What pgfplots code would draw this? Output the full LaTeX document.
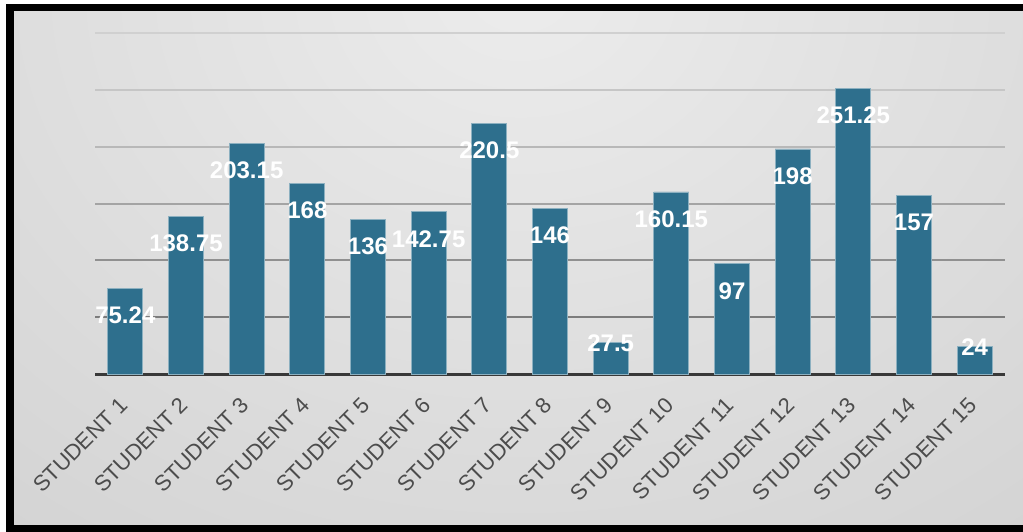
\documentclass[border=0pt]{standalone}
\usepackage{fontspec}
\setmainfont{Liberation Sans}
\usepackage{pgfplots}
\usepackage{pgfplotstable}
\pgfplotsset{compat=1.18}
\definecolor{barc}{RGB}{46,111,141}
\pgfplotstableread{
x y lab
0 75.24 75.24
1 138.75 138.75
2 203.15 203.15
3 168 168
4 136 136
5 142.75 142.75
6 220.5 220.5
7 146 146
9 160.15 160.15
10 97 97
11 198 198
12 251.25 251.25
13 157 157
}\bigbars
\pgfplotstableread{
x y lab
8 27.5 27.5
14 24 24
}\smallbars
\begin{document}
\begin{tikzpicture}
\useasboundingbox (0pt,0pt) rectangle (1023pt,-532pt);
\fill[white] (0pt,0pt) rectangle (1023pt,-532pt);
\fill[black] (6pt,-4pt) rectangle (1023pt,-532pt);
\begin{scope}
\clip (14pt,-12pt) rectangle (1023pt,-524pt);
\shade[inner color={rgb,255:red,236;green,236;blue,236}, outer color={rgb,255:red,190;green,190;blue,190}] (520pt,10pt) ellipse (1600pt and 1300pt);
\end{scope}
\begin{axis}[
  at={(95pt,-374pt)}, anchor=south west,
  scale only axis, width=910pt, height=341pt,
  xmin=-0.5, xmax=14.5, ymin=0, ymax=300,
  clip=false,
  hide y axis,
  axis x line*=bottom,
  x axis line style={draw=black!78, line width=3pt},
  xtick={0,...,14},
  xticklabels={STUDENT 1,STUDENT 2,STUDENT 3,STUDENT 4,STUDENT 5,STUDENT 6,STUDENT 7,STUDENT 8,STUDENT 9,STUDENT 10,STUDENT 11,STUDENT 12,STUDENT 13,STUDENT 14,STUDENT 15},
  major tick length=0pt,
  xticklabel style={xshift=-1pt, yshift=-27pt, rotate=45, anchor=east, font=\fontsize{22}{22}\selectfont, text=black!70, inner sep=1pt},
  point meta=explicit symbolic,
]
\draw[color={rgb,255:red,208;green,208;blue,208}, line width=2pt] (axis cs:-0.5,300) -- (axis cs:14.5,300);
\draw[color={rgb,255:red,198;green,198;blue,198}, line width=2pt] (axis cs:-0.5,250) -- (axis cs:14.5,250);
\draw[color={rgb,255:red,184;green,184;blue,184}, line width=2pt] (axis cs:-0.5,200) -- (axis cs:14.5,200);
\draw[color={rgb,255:red,164;green,164;blue,164}, line width=2pt] (axis cs:-0.5,150) -- (axis cs:14.5,150);
\draw[color={rgb,255:red,144;green,144;blue,144}, line width=2pt] (axis cs:-0.5,100) -- (axis cs:14.5,100);
\draw[color={rgb,255:red,124;green,124;blue,124}, line width=2pt] (axis cs:-0.5,50) -- (axis cs:14.5,50);
\addplot[ybar, bar width=35pt, bar shift=0pt, fill=barc, draw=barc!55!white, line width=0.8pt,
  nodes near coords,
  nodes near coords style={anchor=center, yshift=-27pt, text=white, font=\bfseries\fontsize{24}{24}\selectfont}]
  table[x=x, y=y, meta=lab] {\bigbars};
\addplot[ybar, bar width=35pt, bar shift=0pt, fill=barc, draw=barc!55!white, line width=0.8pt,
  nodes near coords,
  nodes near coords style={anchor=center, yshift=0pt, text=white, font=\bfseries\fontsize{24}{24}\selectfont}]
  table[x=x, y=y, meta=lab] {\smallbars};
\end{axis}
\end{tikzpicture}
\end{document}
